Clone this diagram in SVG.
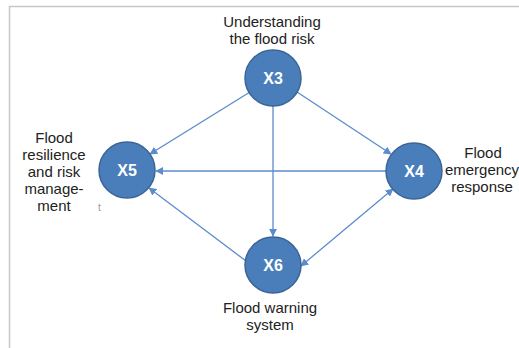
<svg xmlns="http://www.w3.org/2000/svg" width="519" height="348" viewBox="0 0 519 348">
<style>
.frame{stroke:#c8c8c8;stroke-width:1.5;fill:none}
.node circle{fill:#4a7ebb;stroke:#3b6497;stroke-width:1.5}
.node text{fill:#fff;font-family:"Liberation Sans",Arial,sans-serif;font-weight:bold;font-size:16px;text-anchor:middle}
.lbl{fill:#222;font-family:"Liberation Sans",Arial,sans-serif;font-size:15px;text-anchor:middle}
.edge{stroke:#5b8ccb;stroke-width:1.3;fill:none}
</style>
<defs>
<marker id="ah" viewBox="0 0 10 10" refX="9" refY="5" markerWidth="8" markerHeight="8" markerUnits="userSpaceOnUse" orient="auto-start-reverse">
<path d="M0,0 L10,5 L0,10 z" fill="#5b8ccb"/>
</marker>
</defs>
<rect width="519" height="348" fill="#fff"/>
<path class="frame" d="M9.5,348 V6.5 H519"/>
<g id="connectors">
<line class="edge" x1="250" y1="92" x2="150" y2="154" marker-end="url(#ah)"/>
<line class="edge" x1="297" y1="92" x2="391" y2="154" marker-end="url(#ah)"/>
<line class="edge" x1="273" y1="106" x2="273" y2="236" marker-end="url(#ah)"/>
<line class="edge" x1="386" y1="171" x2="156" y2="171" marker-end="url(#ah)"/>
<line class="edge" x1="250" y1="264" x2="149" y2="188" marker-end="url(#ah)"/>
<line class="edge" x1="301" y1="266" x2="393" y2="189" marker-start="url(#ah)" marker-end="url(#ah)"/>
</g>
<g id="X3" class="node"><circle cx="273" cy="78" r="28"/><text x="273" y="84">X3</text></g>
<g id="X5" class="node"><circle cx="127" cy="170" r="28"/><text x="127" y="176">X5</text></g>
<g id="X4" class="node"><circle cx="414" cy="171" r="28"/><text x="414" y="177">X4</text></g>
<g id="X6" class="node"><circle cx="273" cy="265" r="28"/><text x="273" y="271">X6</text></g>
<g id="labels">
<text class="lbl" x="272" y="27">Understanding</text>
<text class="lbl" x="272" y="44">the flood risk</text>
<text class="lbl" x="54" y="143">Flood</text>
<text class="lbl" x="54" y="160">resilience</text>
<text class="lbl" x="54" y="177">and risk</text>
<text class="lbl" x="54" y="194">manage-</text>
<text class="lbl" x="54" y="211">ment</text>
<text x="98" y="211" style="fill:#999;font-family:'Liberation Sans',Arial,sans-serif;font-size:10px">t</text>
<text class="lbl" x="483" y="158">Flood</text>
<text class="lbl" x="482" y="175">emergency</text>
<text class="lbl" x="482" y="192">response</text>
<text class="lbl" x="270" y="313">Flood warning</text>
<text class="lbl" x="270" y="330">system</text>
</g>
</svg>
